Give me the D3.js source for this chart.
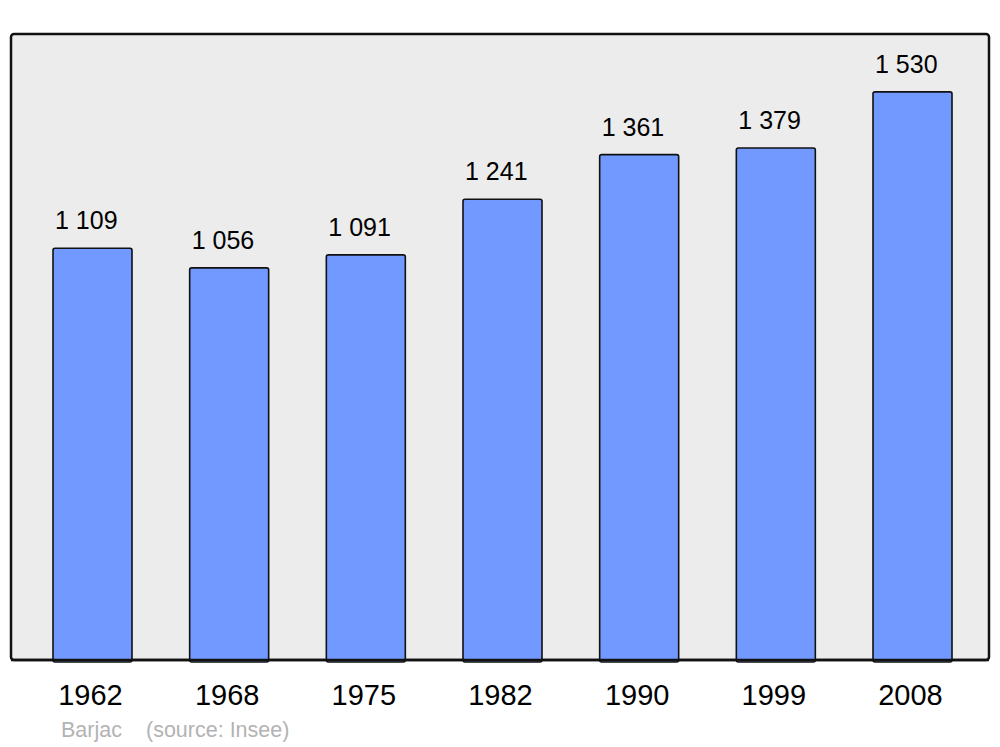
<!DOCTYPE html>
<html>
<head>
<meta charset="utf-8">
<script src="https://cdn.jsdelivr.net/npm/d3@7"></script>
<style>
  body { margin: 0; background: #fff; }
  text { font-family: "Liberation Sans", Arial, sans-serif; }
</style>
</head>
<body>
<div id="chart"></div>
<script>
// population data (Insee)
var years = ["1962", "1968", "1975", "1982", "1990", "1999", "2008"];
var population = [1109, 1056, 1091, 1241, 1361, 1379, 1530];
var valueLabels = ["1 109", "1 056", "1 091", "1 241", "1 361", "1 379", "1 530"];
var commune = "Barjac";
var source = "(source: Insee)";

var width = 1000, height = 747;
var svg = d3.select("#chart").append("svg")
  .attr("width", width).attr("height", height);

var x = d3.scaleBand().domain(years).range([12, 993])
  .paddingInner(0.422).paddingOuter(0.3);
var y = d3.scaleLinear().domain([0, 1686]).range([660, 34]);

// background panel
svg.append("rect")
  .attr("x", 11).attr("y", 34)
  .attr("width", 978).attr("height", 626)
  .attr("rx", 3)
  .attr("fill", "#ececec")
  .attr("stroke", "#111").attr("stroke-width", 2.5);

var bars = svg.selectAll("g.bar")
  .data(years.map(function(d, i) { return {year: d, value: population[i], label: valueLabels[i]}; }))
  .enter().append("g").attr("class", "bar");

bars.append("rect")
  .attr("x", function(d) { return x(d.year); })
  .attr("y", function(d) { return y(d.value); })
  .attr("width", x.bandwidth())
  .attr("height", function(d) { return y(0) - y(d.value) + 2; })
  .attr("rx", 2)
  .attr("fill", "#7299ff")
  .attr("stroke", "#111").attr("stroke-width", 1.6);

// redraw panel bottom edge over the bars
svg.append("line")
  .attr("x1", 11).attr("x2", 989)
  .attr("y1", 660).attr("y2", 660)
  .attr("stroke", "#111").attr("stroke-width", 2.5);

bars.append("text")
  .attr("x", function(d) { return x(d.year) + 2; })
  .attr("y", function(d) { return y(d.value) - 19; })
  .attr("font-size", 25)
  .attr("fill", "#000")
  .text(function(d) { return d.label; });

bars.append("text")
  .attr("x", function(d) { return x(d.year) + x.bandwidth() / 2 - 2; })
  .attr("y", 705)
  .attr("text-anchor", "middle")
  .attr("font-size", 29)
  .attr("fill", "#000")
  .text(function(d) { return d.year; });

svg.append("text")
  .attr("x", 61).attr("y", 737)
  .attr("font-size", 21.5)
  .attr("fill", "#b3b3b3")
  .text(commune);

svg.append("text")
  .attr("x", 146).attr("y", 737)
  .attr("font-size", 21.5)
  .attr("fill", "#b3b3b3")
  .text(source);
</script>
</body>
</html>
